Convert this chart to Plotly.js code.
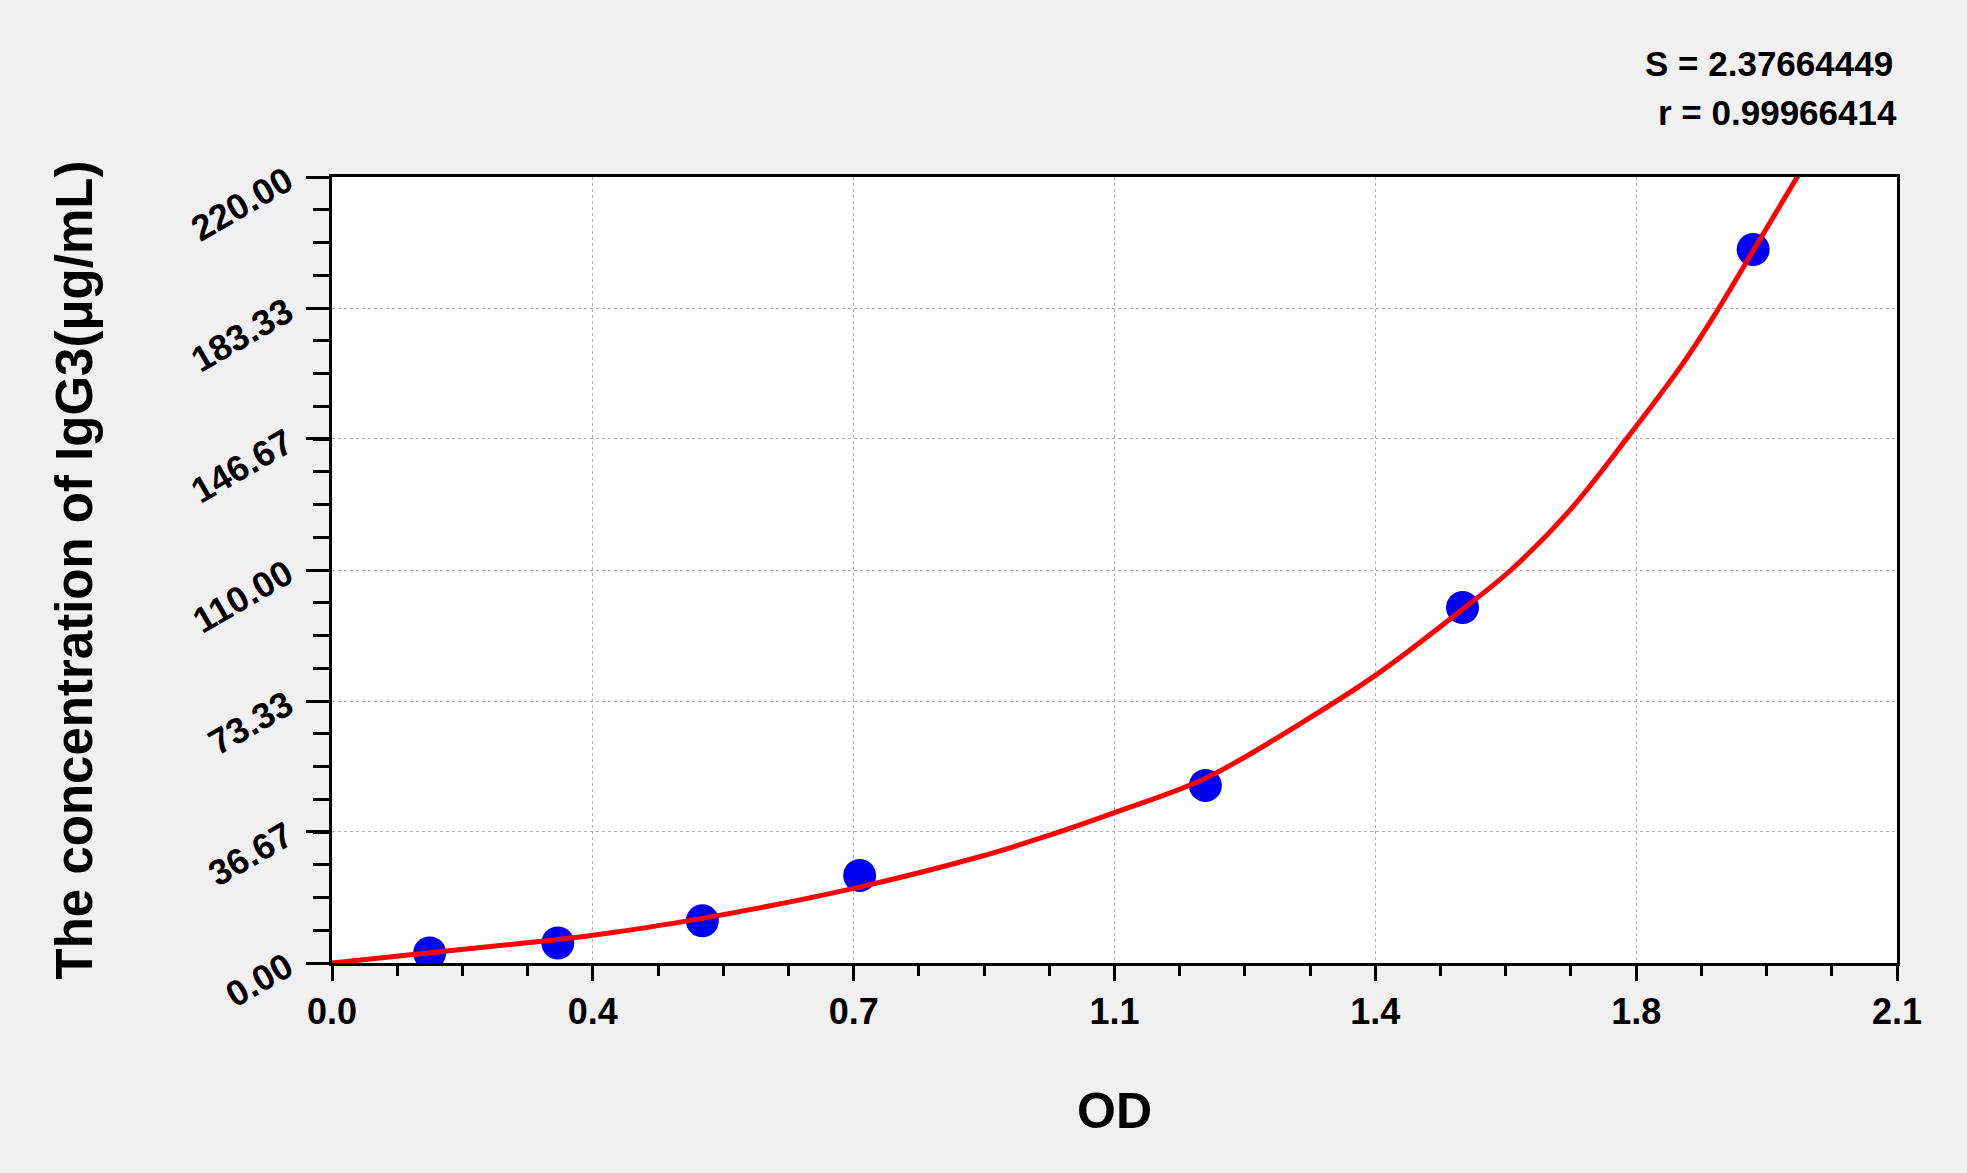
<!DOCTYPE html>
<html>
<head>
<meta charset="utf-8">
<script src="https://cdn.plot.ly/plotly-3.0.1.min.js"></script>
<style>
    html, body { margin: 0; padding: 0; background: #f0f0f0; }
</style>
</head>
<body>
<div id="chart"></div>
<script>
    // standard points (OD, concentration in ug/mL)
    const stdOD = [0.131, 0.303, 0.497, 0.708, 1.172, 1.517, 1.907];
    const stdConc = [2.8, 5.6, 11.8, 24.5, 49.7, 99.5, 199.7];

    // fitted curve, points
    const fitOD = [0, 0.131, 0.304, 0.355, 0.489, 0.700, 0.870, 0.960, 1.050, 1.173,
        1.300, 1.400, 1.517, 1.582, 1.660, 1.737, 1.814, 1.861, 1.908, 1.969];
    const fitConc = [0, 2.85, 6.6, 7.9, 12.2, 20.9, 29.8, 35.6, 42.1, 51.8,
        67.1, 80.5, 99.0, 110.0, 126.5, 146.7, 168.2, 183.3, 199.7, 221.0];

    const xTickVals = [0, 0.35, 0.7, 1.05, 1.4, 1.75, 2.1];
    const xTickText = ['0.0', '0.4', '0.7', '1.1', '1.4', '1.8', '2.1'];
    const yTickVals = [0, 36.67, 73.33, 110, 146.67, 183.33, 220];
    const yTickText = ['0.00', '36.67', '73.33', '110.00', '146.67', '183.33', '220.00'];

    const fitStats = ['S = 2.37664449', 'r = 0.99966414'];

    const fontFamily = 'Liberation Sans, Arial, sans-serif';

    const points = {
        x: stdOD,
        y: stdConc,
        mode: 'markers',
        type: 'scatter',
        marker: {
            color: '#0000f5',
            size: 33
        },
        hoverinfo: 'skip'
    };

    const curve = {
        x: fitOD,
        y: fitConc,
        mode: 'lines',
        type: 'scatter',
        line: {
            color: '#ff0000',
            width: 5,
            shape: 'spline'
        },
        hoverinfo: 'skip'
    };

    const axisCommon = {
        showline: true,
        linecolor: 'black',
        linewidth: 3,
        mirror: true,
        ticks: 'outside',
        tickcolor: 'black',
        tickwidth: 3,
        showgrid: true,
        gridcolor: '#b0b0b0',
        gridwidth: 1,
        griddash: '3px,3px',
        zeroline: false,
        tickmode: 'array',
        tickfont: { family: fontFamily, size: 36, color: 'black', weight: 'bold' }
    };

    const layout = {
        width: 1967,
        height: 1173,
        margin: { l: 332, r: 70, t: 177, b: 210 },
        paper_bgcolor: '#f0f0f0',
        plot_bgcolor: 'white',
        showlegend: false,
        hovermode: false,
        xaxis: Object.assign({}, axisCommon, {
            range: [0, 2.1],
            tickvals: xTickVals,
            ticktext: xTickText,
            ticklen: 15,
            minor: { tick0: 0, dtick: 0.0875, ticks: 'outside', ticklen: 10, tickwidth: 3, tickcolor: 'black', showgrid: false },
            title: {
                text: 'OD',
                font: { family: fontFamily, size: 50, color: 'black', weight: 'bold' },
                standoff: 62
            }
        }),
        yaxis: Object.assign({}, axisCommon, {
            range: [0, 220],
            tickvals: yTickVals,
            ticktext: yTickText,
            tickangle: -30,
            ticklen: 23,
            ticklabelstandoff: 12,
            minor: { tick0: 0, dtick: 220 / 24, ticks: 'outside', ticklen: 16, tickwidth: 3, tickcolor: 'black', showgrid: false },
            title: {
                text: 'The concentration of IgG3(μg/mL)',
                font: { family: fontFamily, size: 51, color: 'black', weight: 'bold' },
                standoff: 76
            }
        }),
        annotations: fitStats.map((t, i) => ({
            text: t,
            xref: 'paper',
            yref: 'paper',
            x: 1,
            y: i === 0 ? 1.1438 : 1.082,
            xanchor: 'right',
            yanchor: 'middle',
            xshift: i === 0 ? -2 : 2,
            showarrow: false,
            font: { family: fontFamily, size: 35, color: 'black', weight: 'bold' }
        }))
    };

    Plotly.newPlot('chart', [points, curve], layout, { displayModeBar: false, staticPlot: true });
</script>
</body>
</html>
